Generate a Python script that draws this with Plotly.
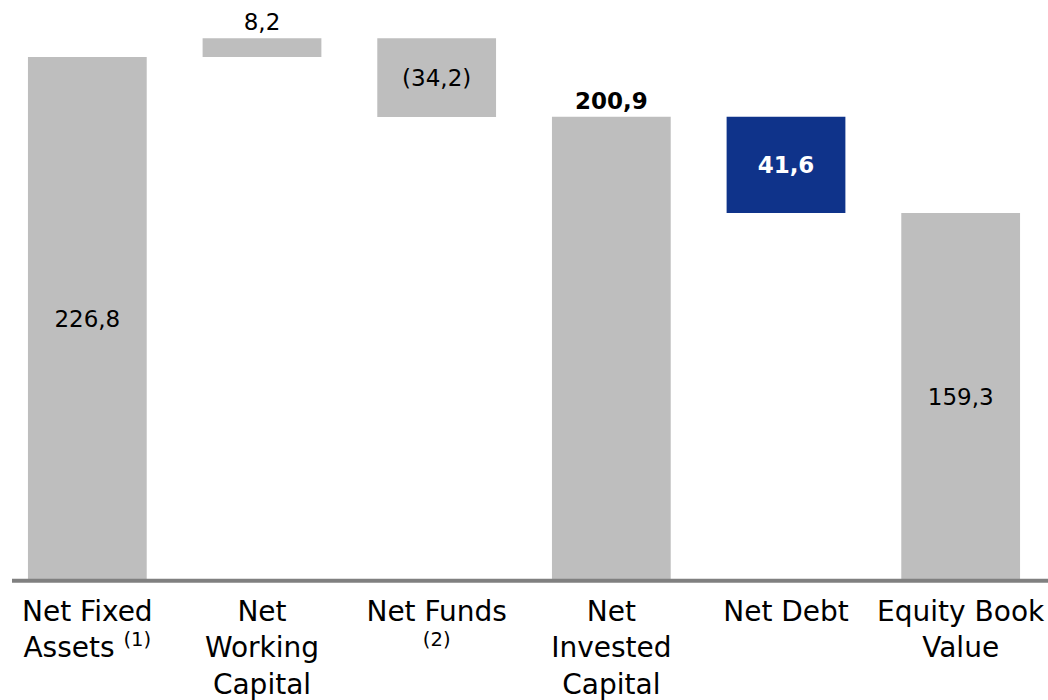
import plotly.graph_objects as go

categories = ["Net Fixed<br>Assets <sup>(1)</sup>", "Net<br>Working<br>Capital",
              "Net Funds<br><sup>(2)</sup>", "Net<br>Invested<br>Capital",
              "Net Debt", "Equity Book<br>Value"]
values = [226.8, 8.2, -34.2, 200.9, -41.6, 159.3]
kinds = ["total", "delta", "delta", "total", "delta", "total"]
label_text = ["226,8", "8,2", "(34,2)", "<b>200,9</b>", "<b>41,6</b>", "159,3"]

GRAY = "#BEBEBE"
BLUE = "#0F338A"

bases, heights = [], []
running = 0.0
for v, k in zip(values, kinds):
    if k == "total":
        bases.append(0.0)
        heights.append(v)
        running = v
    else:
        bases.append(running)
        heights.append(v)
        running += v

colors = [GRAY, GRAY, GRAY, GRAY, BLUE, GRAY]
positions = ["inside", "outside", "inside", "outside", "inside", "inside"]
text_colors = ["#000000", "#000000", "#000000", "#000000", "#FFFFFF", "#000000"]

SCALE = 2.31          # pixels per unit
BASE_PX = 581         # baseline position from top
PAD_UNITS = 4         # room below baseline inside plot area
bottom_margin = 700 - BASE_PX - round(PAD_UNITS * SCALE)

fig = go.Figure(go.Bar(
    x=list(range(len(categories))), y=heights, base=bases,
    marker=dict(color=colors, line=dict(width=0)),
    text=label_text, textposition=positions, insidetextanchor="middle",
    textangle=0, constraintext="none", cliponaxis=False,
    textfont=dict(family="DejaVu Sans", size=23, color=text_colors),
    hoverinfo="skip",
))

fig.add_shape(type="line", xref="paper", yref="y", x0=12/1048, x1=1, y0=0, y1=0,
              line=dict(color="#808080", width=4), layer="above")

fig.update_layout(
    width=1048, height=700,
    margin=dict(l=0, r=0, t=0, b=bottom_margin, autoexpand=False),
    plot_bgcolor="white", paper_bgcolor="white",
    bargap=0.32, showlegend=False,
    font=dict(family="DejaVu Sans", color="#000000"),
)
fig.update_xaxes(tickmode="array", tickvals=list(range(len(categories))), ticktext=categories,
                 tickfont=dict(family="DejaVu Sans", size=28, color="#000000"),
                 showgrid=False, zeroline=False, showline=False, ticks="",
                 range=[-0.5, len(categories) - 0.5], ticklabelstandoff=2,
                 automargin=False)
fig.update_yaxes(range=[-PAD_UNITS, BASE_PX / SCALE], visible=False, showgrid=False,
                 zeroline=False, automargin=False)

fig.write_html("out.html")
